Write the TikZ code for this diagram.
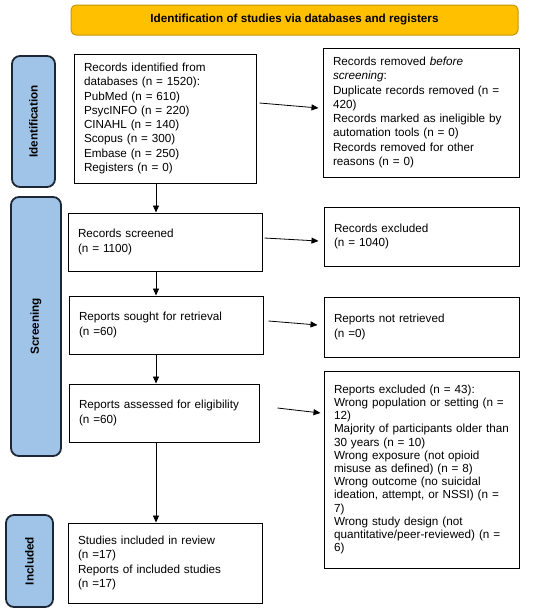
\documentclass[tikz,border=0pt]{standalone}
\usepackage{fontspec}
\setmainfont{Liberation Sans}
\usetikzlibrary{arrows.meta}
\definecolor{bandfill}{RGB}{255,192,0}
\definecolor{banddraw}{RGB}{196,150,10}
\definecolor{sidefill}{RGB}{160,196,232}
\definecolor{sidedraw}{RGB}{28,38,52}
\tikzset{
  box/.style={draw=black, line width=1pt, align=left, inner xsep=10pt, inner ysep=2pt,
    font=\fontsize{11.7}{14.3}\selectfont},
  side/.style={draw=sidedraw, fill=sidefill, line width=1.8pt, rounded corners=8pt,
    inner sep=0pt, font=\bfseries\fontsize{11.7}{14}\selectfont},
  arr/.style={line width=0.8pt, -{Triangle[length=7pt,width=6pt]}},
}
\begin{document}
\begin{tikzpicture}[x=1pt,y=-1pt]
\useasboundingbox[fill=white] (0,0) rectangle (550,613);
\coordinate (spine) at (156,0);

\node[draw=banddraw, fill=bandfill, line width=1pt, rounded corners=5pt,
  minimum width=447pt, minimum height=30pt, inner sep=0pt,
  font=\bfseries\fontsize{11.7}{14}\selectfont] (title) at (294.5,20)
  {Identification of studies via databases and registers};

\node[side, minimum width=43pt, minimum height=131pt] (sideid) at (33.5,121.5) {};
\node[rotate=90, font=\bfseries\fontsize{11.7}{14}\selectfont] (sideidt) at (sideid.center) {Identification};
\node[side, minimum width=50pt, minimum height=259pt] (sidesc) at (36,326.5) {};
\node[rotate=90, font=\bfseries\fontsize{11.7}{14}\selectfont] (sidesct) at (sidesc.center) {Screening};
\node[side, minimum width=47pt, minimum height=92pt] (sidein) at (29.5,561) {};
\node[rotate=90, font=\bfseries\fontsize{11.7}{14}\selectfont] (sideint) at (sidein.center) {Included};

\node[box, text width=162pt, minimum height=129pt] (ident) at (165,118.5)
  {Records identified from\\databases (n = 1520):\\PubMed (n = 610)\\PsycINFO (n = 220)\\CINAHL (n = 140)\\Scopus (n = 300)\\Embase (n = 250)\\Registers (n = 0)};
\node[box, text width=176pt, minimum height=129pt] (removed) at (421,112.5)
  {Records removed \textit{before}\\\textit{screening}:\\Duplicate records removed (n =\\420)\\Records marked as ineligible by\\automation tools (n = 0)\\Records removed for other\\reasons (n = 0)};

\node[box, text width=174pt, minimum height=58pt] (screened) at (165,242)
  {Records screened\\(n = 1100)};
\node[box, text width=175pt, minimum height=59pt] (excluded) at (421.5,236.5)
  {Records excluded\\(n = 1040)};

\node[box, text width=174pt, minimum height=58pt] (sought) at (166,325)
  {Reports sought for retrieval\\(n =60)};
\node[box, text width=175pt, minimum height=60pt] (notret) at (421.5,327)
  {Reports not retrieved\\(n =0)};

\node[box, text width=170pt, minimum height=58pt] (assessed) at (164,413)
  {Reports assessed for eligibility\\(n =60)};
\node[box, text width=175pt, minimum height=197pt, font=\fontsize{11.7}{13.2}\selectfont] (repex) at (421.5,469.5)
  {Reports excluded (n = 43):\\Wrong population or setting (n =\\12)\\Majority of participants older than\\30 years (n = 10)\\Wrong exposure (not opioid\\misuse as defined) (n = 8)\\Wrong outcome (no suicidal\\ideation, attempt, or NSSI) (n =\\7)\\Wrong study design (not\\quantitative/peer-reviewed) (n =\\6)};

\node[box, text width=174pt, minimum height=80pt] (studies) at (165,563)
  {Studies included in review\\(n =17)\\Reports of included studies\\(n =17)};

\draw[arr] (ident.south -| spine) -- (screened.north -| spine);
\draw[arr] (screened.south -| spine) -- (sought.north -| spine);
\draw[arr] (sought.south -| spine) -- (assessed.north -| spine);
\draw[arr] (assessed.south -| spine) -- (studies.north -| spine);

\draw[arr] ([shift={(3,-15.5)}]ident.east) -- ([shift={(-4,-4.5)}]removed.west);
\draw[arr] ([shift={(2,-4)}]screened.east) -- ([shift={(-5,4.5)}]excluded.west);
\draw[arr] ([shift={(5,-4)}]sought.east) -- ([shift={(-6,-2)}]notret.west);
\draw[arr] ([shift={(18,-5)}]assessed.east) -- ([shift={(-3,-56.5)}]repex.west);
\end{tikzpicture}
\end{document}
